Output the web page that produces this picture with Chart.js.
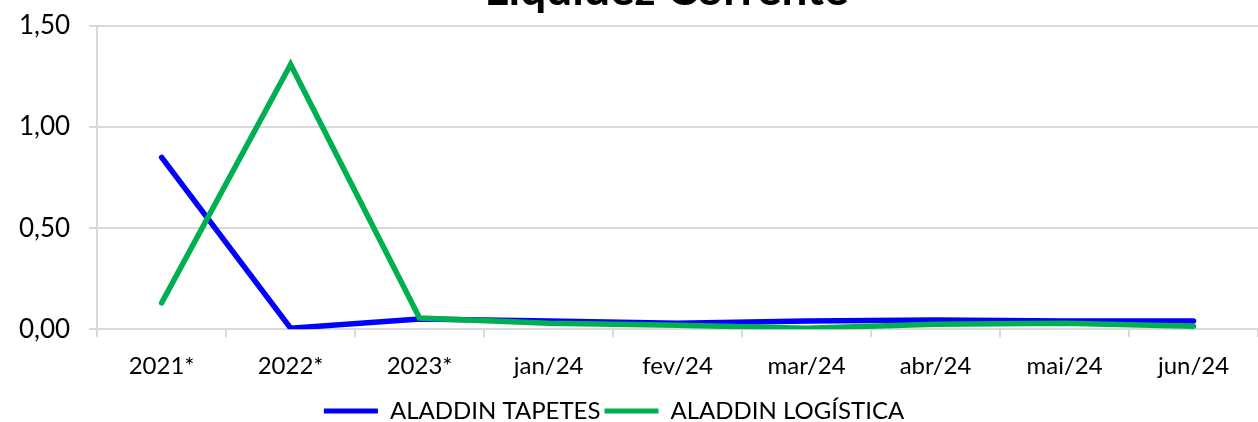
<!DOCTYPE html>
<html>
<head>
<meta charset="utf-8">
<script src="https://cdn.jsdelivr.net/npm/chart.js@4"></script>
<style>
  html, body { margin: 0; padding: 0; background: #fff; }
  #wrap { position: relative; width: 1258px; height: 422px; }
</style>
</head>
<body>
<div id="wrap"><canvas id="liquidez"></canvas></div>
<script>
const categories = ["2021*", "2022*", "2023*", "jan/24", "fev/24", "mar/24", "abr/24", "mai/24", "jun/24"];
const tapetes = [0.85, 0.005, 0.05, 0.04, 0.03, 0.04, 0.045, 0.04, 0.04];
const logistica = [0.13, 1.31, 0.055, 0.03, 0.02, 0.005, 0.025, 0.03, 0.015];
const chartTitle = "Liquidez Corrente";

const gridGray = "#d9d9d9";
const fontName = "Lato, 'Liberation Sans', sans-serif";

// Title is cut off at the top edge, like the original picture
const cutTitle = {
  id: "cutTitle",
  afterDraw(chart) {
    const ctx = chart.ctx;
    const area = chart.chartArea;
    ctx.save();
    ctx.font = "bold 46px " + fontName;
    ctx.fillStyle = "#000";
    ctx.textAlign = "center";
    ctx.textBaseline = "alphabetic";
    ctx.fillText(chartTitle, (area.left + area.right) / 2 - 11, 5);
    ctx.restore();
  },
};

let liquidezChart = new Chart(document.getElementById("liquidez"), {
  type: "line",
  data: {
    labels: categories,
    datasets: [
      {
        label: "ALADDIN TAPETES",
        data: tapetes,
        borderColor: "#0000ff",
        backgroundColor: "#0000ff",
        borderWidth: 5.5,
        pointRadius: 0,
        borderCapStyle: "round",
        order: 1,
      },
      {
        label: "ALADDIN LOGÍSTICA",
        data: logistica,
        borderColor: "#00b050",
        backgroundColor: "#00b050",
        borderWidth: 5.5,
        pointRadius: 0,
        borderCapStyle: "round",
        order: 0,
      },
    ],
  },
  plugins: [cutTitle],
  options: {
    responsive: true,
    maintainAspectRatio: false,
    animation: false,
    layout: { padding: { left: 0, right: 0, top: 26, bottom: -11 } },
    plugins: {
      title: { display: false },
      legend: {
        position: "bottom",
        labels: {
          color: "#000",
          font: { family: fontName, size: 24 },
          boxWidth: 54,
          boxHeight: 5,
          padding: 4,
          // no outline on the legend bars, wider gap between the two items
          generateLabels: function (chart) {
            const items = Chart.defaults.plugins.legend.labels.generateLabels(chart);
            return items.map((l, i) => ({
              ...l,
              lineWidth: 0,
              text: i < items.length - 1 ? l.text + "\u00a0\u00a0\u00a0\u00a0\u00a0" : l.text,
            }));
          },
          sort: function (a, b) {
            return a.datasetIndex - b.datasetIndex;
          },
        },
      },
      tooltip: { enabled: false },
    },
    scales: {
      x: {
        offset: true,
        grid: {
          display: true,
          drawOnChartArea: false,
          drawTicks: true,
          tickLength: 8,
          color: gridGray,
          lineWidth: 2,
          offset: true,
        },
        border: { color: gridGray, width: 2 },
        ticks: {
          color: "#000",
          font: { family: fontName, size: 24 },
          padding: 14.5,
          maxRotation: 0,
        },
      },
      y: {
        min: 0,
        max: 1.5,
        afterFit: function (scale) {
          scale.paddingTop = 0;
        },
        grid: { color: gridGray, lineWidth: 2, tickLength: 8 },
        border: { color: gridGray, width: 2 },
        ticks: {
          stepSize: 0.5,
          color: "#000",
          font: { family: fontName, size: 26 },
          padding: 19,
          callback: function (v) {
            return v.toFixed(2).replace(".", ",");
          },
        },
      },
    },
  },
});
</script>
</body>
</html>
